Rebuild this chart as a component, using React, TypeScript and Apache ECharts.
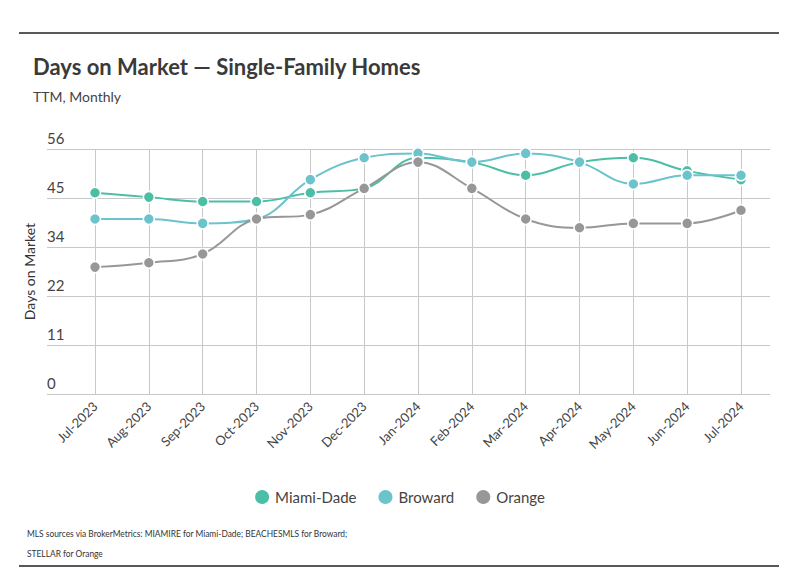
import React, { useEffect, useRef } from "react";
import * as echarts from "echarts";

const months = ["Jul-2023","Aug-2023","Sep-2023","Oct-2023","Nov-2023","Dec-2023","Jan-2024","Feb-2024","Mar-2024","Apr-2024","May-2024","Jun-2024","Jul-2024"];
const miamiDade = [46, 45, 44, 44, 46, 47, 54, 53, 50, 53, 54, 51, 49];
const broward = [40, 40, 39, 40, 49, 54, 55, 53, 55, 53, 48, 50, 50];
const orange = [29, 30, 32, 40, 41, 47, 53, 47, 40, 38, 39, 39, 42];
const seriesNames = ["Miami-Dade", "Broward", "Orange"];
const colors = ["#4dbea6", "#6bc3cc", "#979797"];
const yMax = 56;
const yStep = 11.2;

const FONT = "Lato, 'Noto Sans', sans-serif";

export default function App() {
  const ref = useRef<HTMLDivElement>(null);
  useEffect(() => {
    if (!ref.current) return;
    const chart = echarts.init(ref.current, undefined, { renderer: "svg" });
    const data = [miamiDade, broward, orange];
    chart.setOption({
      animation: false,
      backgroundColor: "#ffffff",
      textStyle: { fontFamily: FONT },
      grid: [
        { left: 95, right: 57, top: 149, bottom: 181 },
        { left: 47, right: 28, top: 149, bottom: 181 },
      ],
      xAxis: [
        {
          type: "category",
          gridIndex: 0,
          data: months,
          boundaryGap: false,
          axisLine: { show: false },
          axisTick: { show: false },
          splitLine: { show: true, lineStyle: { color: "#c8c8c8", width: 1 } },
          axisLabel: { rotate: 45, fontSize: 13, color: "#444", margin: 10, fontFamily: FONT },
        },
        { type: "value", gridIndex: 1, show: false, min: 0, max: 1 },
      ],
      yAxis: [
        { type: "value", gridIndex: 0, min: 0, max: yMax, show: false, splitLine: { show: false } },
        {
          type: "value",
          gridIndex: 1,
          min: 0,
          max: yMax,
          interval: yStep,
          axisLine: { show: false },
          axisTick: { show: false },
          splitLine: { show: true, lineStyle: { color: "#c8c8c8", width: 1 } },
          axisLabel: {
            inside: true,
            margin: 0,
            verticalAlign: "bottom",
            align: "left",
            padding: [0, 0, 4, 0],
            fontSize: 15,
            color: "#444",
            fontFamily: FONT,
            formatter: (v: number) => String(Math.round(v)),
          },
          name: "Days on Market",
          nameLocation: "middle",
          nameRotate: 90,
          nameGap: 10,
          nameTextStyle: { fontSize: 14, color: "#333", fontFamily: FONT },
        },
      ],
      legend: {
        data: seriesNames,
        bottom: 64,
        left: "center",
        icon: "circle",
        itemWidth: 16,
        itemHeight: 16,
        itemGap: 20,
        textStyle: { fontSize: 15, color: "#444", fontFamily: FONT },
      },
      series: seriesNames.map((name, i) => ({
        name,
        type: "line",
        xAxisIndex: 0,
        yAxisIndex: 0,
        data: data[i],
        smooth: 0.4,
        symbol: "circle",
        symbolSize: 11,
        color: colors[i],
        lineStyle: { width: 2, color: colors[i] },
        itemStyle: { color: colors[i], borderColor: "#fff", borderWidth: 1.5 },
        emphasis: { disabled: true },
      })),
      graphic: [
        { type: "line", shape: { x1: 19, y1: 33, x2: 779, y2: 33 }, style: { stroke: "#222", lineWidth: 1.5 } },
        { type: "text", left: 33, top: 55, style: { text: "Days on Market — Single-Family Homes", fontSize: 22, fontWeight: "bold", fill: "#3a3a3a", fontFamily: FONT } },
        { type: "text", left: 33, top: 89, style: { text: "TTM, Monthly", fontSize: 14, fill: "#444", fontFamily: FONT } },
        {
          type: "group",
          x: 27,
          y: 523,
          scaleX: 0.84,
          children: [
            { type: "text", x: 0, y: 0, style: { text: "MLS sources via BrokerMetrics: MIAMIRE for Miami-Dade; BEACHESMLS for Broward;\nSTELLAR for Orange", fontSize: 10, lineHeight: 20, fill: "#333", fontFamily: FONT } },
          ],
        },
        { type: "line", shape: { x1: 19, y1: 566, x2: 779, y2: 566 }, style: { stroke: "#222", lineWidth: 1.5 } },
      ],
    });
    return () => chart.dispose();
  }, []);
  return <div ref={ref} style={{ position: "fixed", left: 0, top: 0, width: 798, height: 575 }} />;
}
